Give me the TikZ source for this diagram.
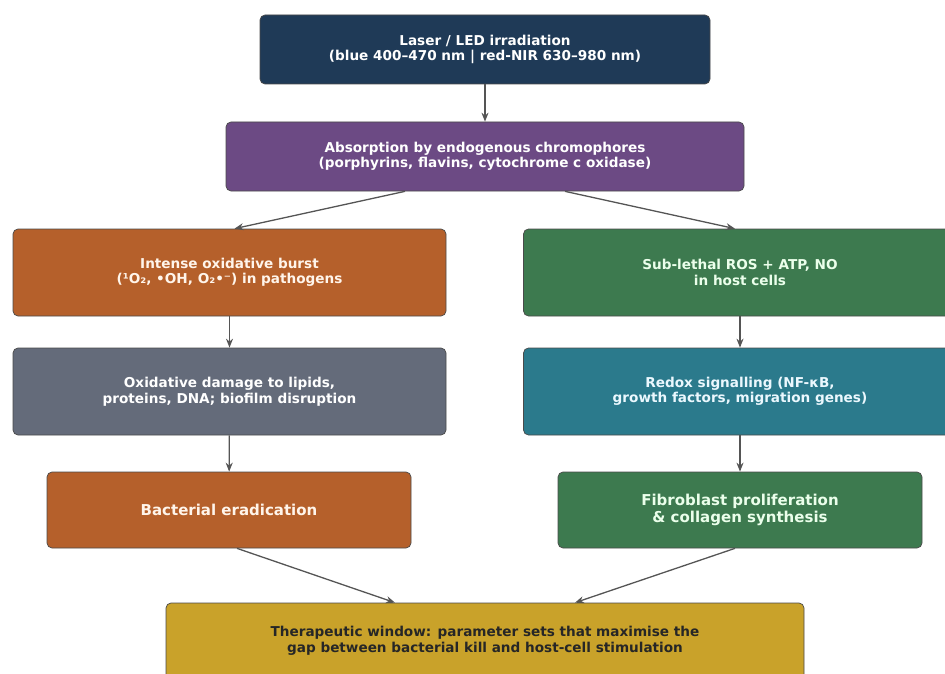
\documentclass[tikz,border=0pt]{standalone}
\usepackage{fontspec}
\setmainfont{DejaVu Sans}
\usepackage{tikz}
\usetikzlibrary{arrows.meta, positioning, calc}
\usepackage{xcolor}
\definecolor{ptnavy}{HTML}{1F3A57}
\definecolor{ptpurple}{HTML}{6C4A84}
\definecolor{ptorange}{HTML}{B5602B}
\definecolor{ptgreen}{HTML}{3D7A4F}
\definecolor{ptgray}{HTML}{646B7A}
\definecolor{ptteal}{HTML}{2B7A8C}
\definecolor{ptgold}{HTML}{C9A22A}
\definecolor{ptedge}{HTML}{4A4A4A}
\definecolor{ptarrow}{HTML}{555555}

\begin{document}
\begin{tikzpicture}[
  x=1pt, y=-1pt,
  box/.style={
    draw=ptedge, rounded corners=5pt, align=center, line width=0.7pt,
    font=\fontsize{13.6}{15.5}\selectfont\bfseries, text=white
  },
  wide/.style={box, minimum width=433pt, minimum height=87pt},
  big/.style={font=\fontsize{15}{17}\selectfont\bfseries},
  arrow/.style={-{Stealth[length=9pt, width=7pt]}, line width=1.3pt, ptarrow}
]
  \useasboundingbox (0,0) rectangle (945,674);

  % Source and absorption
  \node[box, fill=ptnavy, minimum width=450pt, minimum height=69pt] (laser)
    at (485,49.5) {Laser / LED irradiation\\(blue 400–470 nm | red-NIR 630–980 nm)};
  \node[box, fill=ptpurple, minimum width=518pt, minimum height=69pt] (absorb)
    at (485,156.5) {Absorption by endogenous chromophores\\(porphyrins, flavins, cytochrome c oxidase)};

  % Pathogen branch
  \node[wide, fill=ptorange, text=orange!8] (burst)
    at (229.5,272.5) {Intense oxidative burst\\(¹O₂, •OH, O₂•⁻) in pathogens};
  \node[wide, fill=ptgray] (damage)
    at (229.5,391.5) {Oxidative damage to lipids,\\proteins, DNA; biofilm disruption};
  \node[box, big, fill=ptorange, text=orange!8, minimum width=364pt, minimum height=76pt] (erad)
    at (229,510) {Bacterial eradication};

  % Host branch
  \node[wide, fill=ptgreen, text=green!8] (sublethal)
    at (740,272.5) {Sub-lethal ROS + ATP, NO\\in host cells};
  \node[wide, fill=ptteal, text=cyan!8] (redox)
    at (740,391.5) {Redox signalling (NF-κB,\\growth factors, migration genes)};
  \node[box, big, fill=ptgreen, text=green!8, minimum width=364pt, minimum height=76pt] (fibro)
    at (740,510) {Fibroblast proliferation\\\& collagen synthesis};

  % Outcome
  \node[box, fill=ptgold, text=black!85, minimum width=638pt, minimum height=76pt] (window)
    at (485,641) {Therapeutic window: parameter sets that maximise the\\gap between bacterial kill and host-cell stimulation};

  % Connectors
  \draw[arrow] (laser) -- (absorb);
  \draw[arrow] ([xshift=-80pt]absorb.south) -- ([xshift=5pt]burst.north);
  \draw[arrow] ([xshift=80pt]absorb.south) -- ([xshift=-5pt]sublethal.north);
  \draw[arrow] (burst) -- (damage);
  \draw[arrow] (damage) -- (erad);
  \draw[arrow] (sublethal) -- (redox);
  \draw[arrow] (redox) -- (fibro);
  \draw[arrow] ([xshift=8pt]erad.south) -- ([xshift=-90pt]window.north);
  \draw[arrow] ([xshift=-5pt]fibro.south) -- ([xshift=90pt]window.north);
\end{tikzpicture}
\end{document}
